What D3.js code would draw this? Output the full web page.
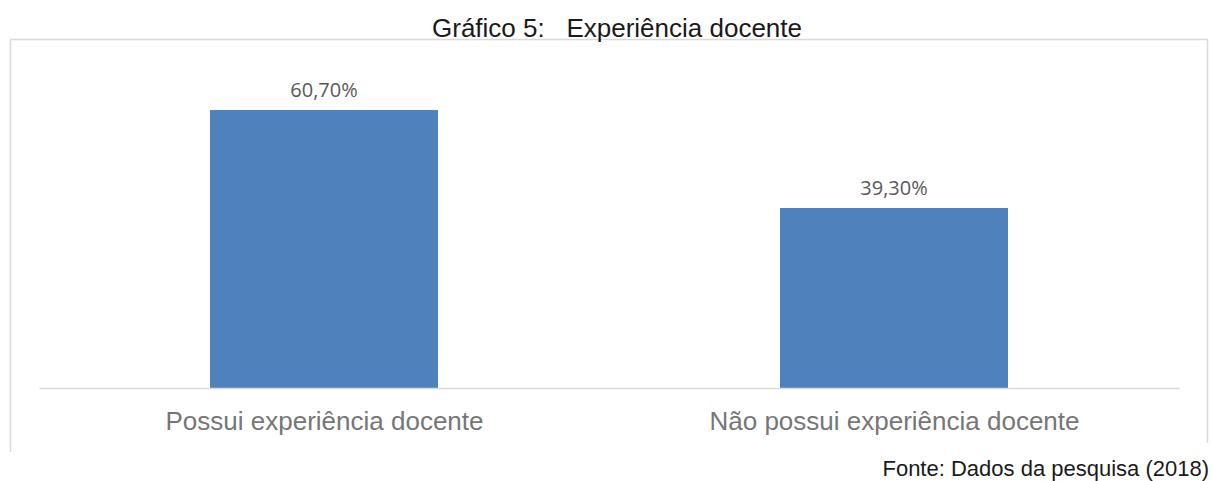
<!doctype html>
<html lang='pt'>
<head>
  <meta charset='UTF-8'>
  <title>Experiência docente</title>
  <style>
    body { margin: 0; background: #fff; }
    .axis path, .axis line { fill: none; stroke: #d9d9d9; }
    .cat text { font-family: 'Liberation Sans', Arial, sans-serif; font-size: 26px; fill: #767676; }
  </style>
</head>
<body>
<script src='https://d3js.org/d3.v7.min.js'></script>
<script>
  const categories = ['Possui experiência docente', 'Não possui experiência docente']
  const values = [60.7, 39.3]
  const valueLabels = ['60,70%', '39,30%']

  const W = 1212, H = 481
  const plot = {left: 39, right: 1179, top: 67.4, bottom: 388}

  const svg = d3.select('body').append('svg')
    .attr('width', W)
    .attr('height', H)

  // chart frame (bottom cut off by the page)
  svg.append('path')
    .attr('d', 'M10.5,452 V39.5 H1207.5 V443')
    .attr('fill', 'none')
    .attr('stroke', '#d9d9d9')
    .attr('stroke-width', 1.5)

  const x = d3.scaleBand()
    .domain(categories)
    .range([plot.left, plot.right])
    .paddingInner(0.6)
    .paddingOuter(0.3)

  const y = d3.scaleLinear()
    .domain([0, 70])
    .range([plot.bottom, plot.top])

  svg.selectAll('rect.bar')
    .data(values)
    .join('rect')
    .attr('class', 'bar')
    .attr('x', (d, i) => x(categories[i]))
    .attr('y', d => y(d))
    .attr('width', x.bandwidth())
    .attr('height', d => y(0) - y(d))
    .attr('fill', '#4f81bd')

  svg.selectAll('text.val')
    .data(values)
    .join('text')
    .attr('class', 'val')
    .attr('x', (d, i) => x(categories[i]) + x.bandwidth() / 2)
    .attr('y', d => y(d) - 13)
    .attr('text-anchor', 'middle')
    .attr('font-family', "'Open Sans', sans-serif")
    .attr('font-size', 20)
    .attr('fill', '#595959')
    .text((d, i) => valueLabels[i])

  // category axis: full-width line, labels centred on each group
  const xAxis = d3.axisBottom(d3.scalePoint().domain(categories).range([plot.left, plot.right]).padding(0.5))
    .tickSize(0)
    .tickPadding(30)

  svg.append('g')
    .attr('class', 'axis cat')
    .attr('transform', `translate(0, ${plot.bottom})`)
    .call(xAxis)
    .call(g => g.select('.domain').attr('stroke-width', 1.5))
    .call(g => g.selectAll('text').attr('dy', 0).attr('y', 42))

  svg.append('text')
    .attr('x', 617)
    .attr('y', 37)
    .attr('text-anchor', 'middle')
    .attr('font-family', "'Liberation Sans', Arial, sans-serif")
    .attr('font-size', 26)
    .attr('fill', '#1a1a1a')
    .attr('xml:space', 'preserve')
    .style('white-space', 'pre')
    .text('Gráfico 5:   Experiência docente')

  svg.append('rect')
    .attr('x', 880).attr('y', 446).attr('width', 332).attr('height', 35)
    .attr('fill', '#fff')

  svg.append('text')
    .attr('x', 1209)
    .attr('y', 476)
    .attr('text-anchor', 'end')
    .attr('font-family', "'Liberation Sans', Arial, sans-serif")
    .attr('font-size', 22)
    .attr('fill', '#1a1a1a')
    .text('Fonte: Dados da pesquisa (2018)')
</script>
</body>
</html>
